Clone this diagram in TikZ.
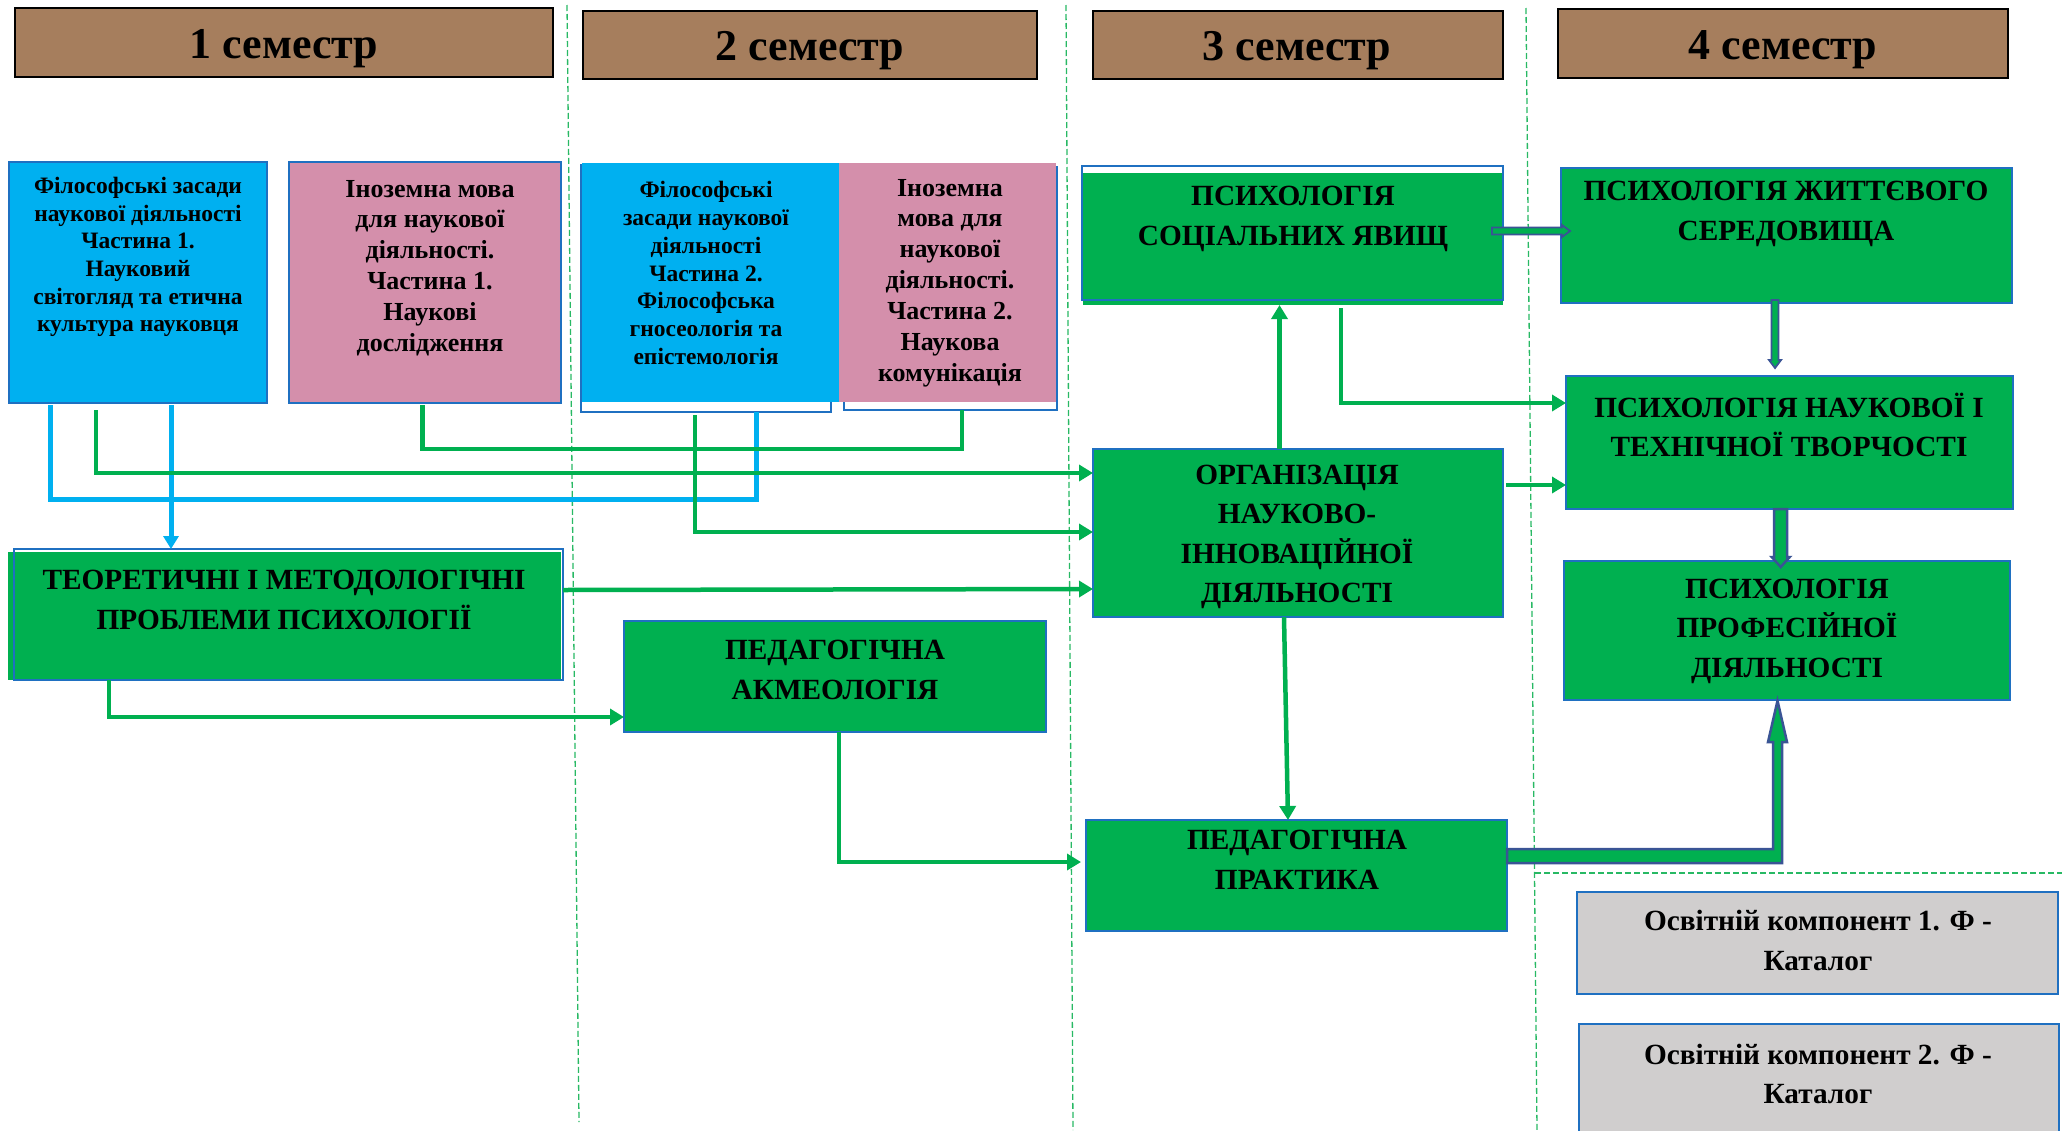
\documentclass[tikz,border=0pt]{standalone}
\usepackage{fontspec}
\setmainfont{Liberation Serif}
\usetikzlibrary{arrows.meta,calc}
\definecolor{bordblue}{RGB}{31,112,193}
\definecolor{gfill}{RGB}{0,176,80}
\definecolor{lblue}{RGB}{0,176,240}
\definecolor{pinkc}{RGB}{212,143,171}
\definecolor{brownc}{RGB}{166,126,93}
\definecolor{greyc}{RGB}{208,206,206}
\definecolor{dkblue}{RGB}{58,84,149}
\definecolor{sepgreen}{RGB}{40,185,100}
\begin{document}
\begin{tikzpicture}[x=1pt,y=-1pt,
  plainbox/.style={rectangle, anchor=north west, inner sep=0pt, outer sep=0pt},
  bx/.style={plainbox, draw=bordblue, line width=2.5pt},
  gbox/.style={bx, fill=gfill},
  hdr/.style={plainbox, fill=brownc, draw=black, line width=2pt},
  th/.style={inner sep=0pt, font=\bfseries\fontsize{44}{50}\selectfont},
  tb/.style={align=center, inner sep=0pt, font=\bfseries\fontsize{23.5}{27.7}\selectfont},
  tp/.style={align=center, inner sep=0pt, font=\bfseries\fontsize{26}{30.9}\selectfont},
  tg/.style={align=center, inner sep=0pt, font=\bfseries\fontsize{29.3}{39.5}\selectfont},
  sepline/.style={draw=sepgreen, line width=1.3pt, dash pattern=on 6pt off 3pt},
  gline/.style={draw=gfill, line width=4.5pt},
  garrow/.style={gline, -{Triangle[length=14pt,width=16pt]}},
  bline/.style={draw=lblue, line width=5pt},
  barrow/.style={bline, -{Triangle[length=13pt,width=15pt]}},
  dbl/.style={fill=gfill, draw=dkblue, line width=2pt, line join=miter}
]
\fill[white] (0,0) rectangle (2069,1130);
\useasboundingbox (0,0) rectangle (2069,1130);

% separators
\draw[sepline] (567,5) -- (579,1122);
\draw[sepline] (1066,5) -- (1073,1130);
\draw[sepline] (1526,8) -- (1537,1130);
\draw[sepline] (1535,873) -- (2062,873);

% headers
\node[hdr, minimum width=538.5, minimum height=68.5] (h1) at (14.5,8) {};
\node[hdr, minimum width=454, minimum height=68.5] (h2) at (583,10.5) {};
\node[hdr, minimum width=410.5, minimum height=68.5] (h3) at (1092.5,10.5) {};
\node[hdr, minimum width=450, minimum height=69] (h4) at (1558,9) {};
\node[th] (h1t) at (284,49) {1 семестр};
\node[th] (h2t) at (810,51) {2 семестр};
\node[th] (h3t) at (1297,51) {3 семестр};
\node[th] (h4t) at (1783,50) {4 семестр};

% boxes
\node[bx, fill=lblue, minimum width=258, minimum height=241] (b1) at (9,162) {};
\node[bx, fill=pinkc, minimum width=272, minimum height=241] (p1) at (289,162) {};
\node[bx, fill=white, minimum width=250, minimum height=247] (b2o) at (581,165) {};
\node[plainbox, fill=lblue, minimum width=257, minimum height=239] (b2) at (582,163) {};
\node[bx, fill=white, minimum width=213, minimum height=243] (p2o) at (844,167) {};
\node[plainbox, fill=pinkc, minimum width=217, minimum height=239] (p2) at (839,163) {};
\node[plainbox, fill=gfill, minimum width=420, minimum height=132] (soc) at (1083,173) {};
\node[bx, minimum width=421, minimum height=134] (soco) at (1082,166) {};
\node[gbox, minimum width=451, minimum height=135] (zh) at (1561,168) {};
\node[gbox, minimum width=447, minimum height=133] (tv) at (1566,376) {};
\node[gbox, minimum width=410, minimum height=168] (org) at (1093,449) {};
\node[gbox, minimum width=446, minimum height=139] (prof) at (1564,561) {};
\node[plainbox, fill=gfill, minimum width=553, minimum height=128] (teor) at (8,552) {};
\node[bx, minimum width=549, minimum height=131] (teoro) at (14,549) {};
\node[gbox, minimum width=422, minimum height=111] (akm) at (624,621) {};
\node[gbox, minimum width=421, minimum height=111] (prak) at (1086,820) {};
\node[bx, fill=greyc, minimum width=481, minimum height=102] (g1) at (1577,892) {};
\node[bx, fill=greyc, minimum width=480, minimum height=130] (g2) at (1579,1024) {};

% texts
\node[tb] (b1t) at (138,257) {Філософські засади\\наукової діяльності\\Частина 1.\\Науковий\\світогляд та етична\\культура науковця};
\node[tp] (p1t) at (430,268) {Іноземна мова\\для наукової\\діяльності.\\Частина 1.\\Наукові\\дослідження};
\node[tb] (b2t) at (706,273) {Філософські\\засади наукової\\діяльності\\Частина 2.\\Філософська\\гносеологія та\\епістемологія};
\node[tp] (p2t) at (950,283) {Іноземна\\мова для\\наукової\\діяльності.\\Частина 2.\\Наукова\\комунікація};
\node[tg] (soct) at (1293,219) {ПСИХОЛОГІЯ\\СОЦІАЛЬНИХ ЯВИЩ};
\node[tg] (zht) at (1786,214) {ПСИХОЛОГІЯ ЖИТТЄВОГО\\СЕРЕДОВИЩА};
\node[tg] (tvt) at (1789,425) {ПСИХОЛОГІЯ НАУКОВОЇ І\\ТЕХНІЧНОЇ ТВОРЧОСТІ};
\node[tg] (orgt) at (1297,537) {ОРГАНІЗАЦІЯ\\НАУКОВО-\\ІННОВАЦІЙНОЇ\\ДІЯЛЬНОСТІ};
\node[tg] (proft) at (1787,631) {ПСИХОЛОГІЯ\\ПРОФЕСІЙНОЇ\\ДІЯЛЬНОСТІ};
\node[tg] (teort) at (284,600) {ТЕОРЕТИЧНІ І МЕТОДОЛОГІЧНІ\\ПРОБЛЕМИ ПСИХОЛОГІЇ};
\node[tg] (akmt) at (835,670) {ПЕДАГОГІЧНА\\АКМЕОЛОГІЯ};
\node[tg] (prakt) at (1297,860) {ПЕДАГОГІЧНА\\ПРАКТИКА};
\node[tg] (g1t) at (1818,940.5) {Освітній компонент 1. Ф -\\Каталог};
\node[tg] (g2t) at (1818,1074) {Освітній компонент 2. Ф -\\Каталог};

% light blue connectors
\coordinate (bLs) at ($(b1.south west)+(41.5,2)$);
\coordinate (bLe) at ($(b2o.south west)+(175,0)$);
\draw[bline] (bLs) |- ($(bLe)+(0,87)$) -- (bLe);
\coordinate (bAs) at ($(b1.south west)+(162,2)$);
\draw[barrow] (bAs) -- (bAs |- teoro.north);

% green connectors
\coordinate (gAs) at ($(b1.south west)+(87,7)$);
\draw[garrow] (gAs) |- ($(org.north west)+(0,24)$);
\coordinate (gBs) at ($(p1.south west)+(133.5,2)$);
\coordinate (gBe) at ($(p2o.south west)+(118,0)$);
\draw[gline] (gBs) |- ($(gBe)+(0,39)$) -- (gBe);
\coordinate (gCs) at ($(b2o.south west)+(114,3)$);
\draw[garrow] (gCs) |- ($(org.north west)+(0,83)$);
\draw[garrow] ($(teoro.north east)+(0,41)$) -- ($(org.north west)+(0,140)$);
\draw[garrow] ($(teor.south west)+(101,0)$) |- ($(akm.north west)+(0,96)$);
\draw[garrow] ($(akm.south west)+(215,0)$) |- ($(prak.north west)+(-5,42)$);
\coordinate (gGs) at ($(org.north west)+(186.5,0)$);
\draw[garrow] (gGs) -- (gGs |- soc.south);
\draw[garrow] ($(soc.south west)+(258,3)$) |- ($(tv.north west)+(0,27)$);
\draw[garrow] ($(org.north east)+(3,36)$) -- ($(tv.north west)+(0,109)$);
\draw[garrow] ($(org.south west)+(191,0)$) -- ($(prak.north west)+(202,0)$);

% outlined (double) arrows
\coordinate (iS) at ($(soc.north east)+(-11,58)$);
\filldraw[dbl, line width=1.8pt] ($(iS)+(0,-3.5)$) -- ++(70,0) -- ++(0,-2.5) -- ++(8,6) -- ++(-8,6) -- ++(0,-2.5) -- ++(-70,0) -- cycle;
\coordinate (jS) at ($(zh.south west)+(214,-3)$);
\filldraw[dbl, line width=1.8pt] ($(jS)+(-3.5,0)$) -- ++(0,60) -- ++(-2.5,0) -- ++(6,8) -- ++(6,-8) -- ++(-2.5,0) -- ++(0,-60) -- cycle;
\coordinate (kS) at ($(tv.south west)+(214.7,0)$);
\filldraw[dbl, line width=2.5pt] ($(kS)+(-6.5,0)$) -- ++(0,48) -- ++(-2.5,0) -- ++(9,10) -- ++(9,-10) -- ++(-2.5,0) -- ++(0,-48) -- cycle;
\coordinate (lS) at ($(prak.north east)+(0,29)$);
\filldraw[dbl, line width=2.5pt] (lS) -- ++(266,0) -- ++(0,-107) -- ++(-5,0) -- ++(9.5,-41.3) -- ++(9.5,41.3) -- ++(-5,0) -- ++(0,121) -- ++(-275,0) -- cycle;
\end{tikzpicture}
\end{document}
